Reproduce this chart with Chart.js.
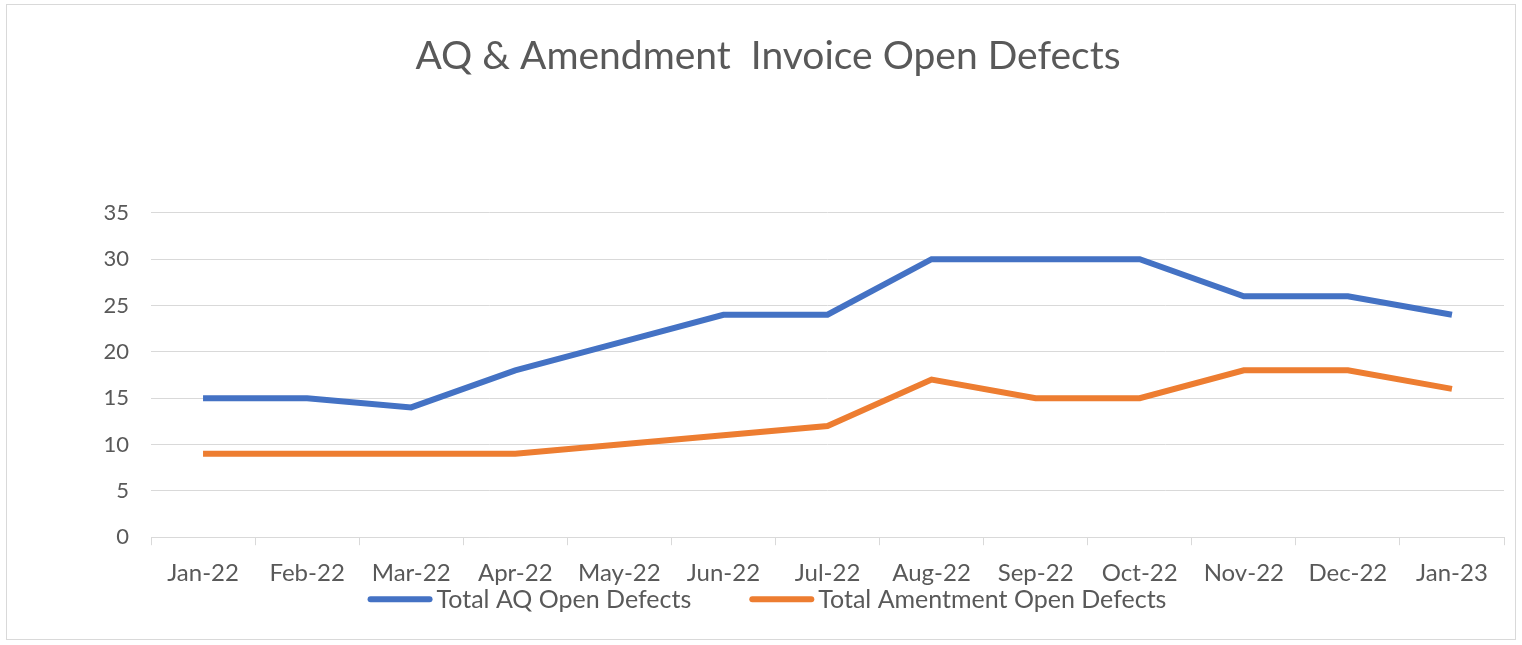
<!DOCTYPE html>
<html>
<head>
<meta charset="utf-8">
<script src="https://cdn.jsdelivr.net/npm/chart.js@4.4.0/dist/chart.umd.min.js"></script>
<style>
  html, body { margin: 0; padding: 0; background: #fff; }
  .wrap {
    position: absolute; left: 6px; top: 4px; width: 1510px; height: 636px;
    border: 1px solid #d9d9d9; box-sizing: border-box;
  }
  canvas { display: block; }
</style>
</head>
<body>
<div class="wrap">
  <canvas id="defectChart" width="1508" height="634"></canvas>
</div>
<script>
// 月ごとのカテゴリ
const months = ['Jan-22', 'Feb-22', 'Mar-22', 'Apr-22', 'May-22', 'Jun-22', 'Jul-22',
                'Aug-22', 'Sep-22', 'Oct-22', 'Nov-22', 'Dec-22', 'Jan-23'];

// 系列データ
const aqOpen = [15, 15, 14, 18, 21, 24, 24, 30, 30, 30, 26, 26, 24];
const amendmentOpen = [9, 9, 9, 9, 10, 11, 12, 17, 15, 15, 18, 18, 16];

const seriesNames = ['Total AQ Open Defects', 'Total Amentment Open Defects'];
const chartTitle = 'AQ & Amendment  Invoice Open Defects';

const textColor = '#595959';
const gridColor = '#d9d9d9';
const fontFamily = 'Lato, "Open Sans", sans-serif';

// 凡例はExcel風の間隔にしたいので自前で描く
const excelLegend = {
  id: 'excelLegend',
  afterDraw(chart) {
    const c = chart.ctx;
    const items = chart.data.datasets;
    const boxW = 65, boxH = 6, textGap = 4, itemGap = 58;
    c.save();
    c.font = '25px ' + fontFamily;
    c.textBaseline = 'middle';
    let total = 0;
    items.forEach((ds, i) => {
      total += boxW + textGap + c.measureText(ds.label).width;
      if (i < items.length - 1) total += itemGap;
    });
    let x = chart.width / 2 + 6 - total / 2;
    const y = chart.chartArea.bottom + 62;
    items.forEach(ds => {
      c.fillStyle = ds.borderColor;
      c.beginPath();
      c.roundRect(x, y - boxH / 2, boxW, boxH, 3);
      c.fill();
      x += boxW + textGap;
      c.fillStyle = textColor;
      c.fillText(ds.label, x, y + 1);
      x += c.measureText(ds.label).width + itemGap;
    });
    c.restore();
  }
};

document.addEventListener('DOMContentLoaded', () => {
  const ctx = document.getElementById('defectChart').getContext('2d');

  new Chart(ctx, {
    type: 'line',
    data: {
      labels: months,
      datasets: [
        {
          label: seriesNames[0],
          data: aqOpen,
          borderColor: '#4472C4',
          backgroundColor: '#4472C4',
          borderWidth: 6,
          pointRadius: 0,
          tension: 0
        },
        {
          label: seriesNames[1],
          data: amendmentOpen,
          borderColor: '#ED7D31',
          backgroundColor: '#ED7D31',
          borderWidth: 6,
          pointRadius: 0,
          tension: 0
        }
      ]
    },
    plugins: [excelLegend],
    options: {
      responsive: false,
      animation: false,
      layout: { padding: { left: 25, right: 11, top: 6, bottom: 37 } },
      plugins: {
        title: {
          display: true,
          text: chartTitle,
          color: textColor,
          font: { family: fontFamily, size: 39, weight: 'normal' },
          padding: { top: 22, bottom: 133 }
        },
        legend: { display: false },
        tooltip: { enabled: false }
      },
      scales: {
        x: {
          offset: true,
          grid: {
            offset: true,
            drawOnChartArea: false,
            drawTicks: true,
            tickLength: 8,
            color: gridColor
          },
          border: { color: gridColor },
          ticks: {
            color: textColor,
            font: { family: fontFamily, size: 24 },
            maxRotation: 0,
            autoSkip: false,
            padding: 14
          }
        },
        y: {
          min: 0,
          max: 35,
          ticks: {
            stepSize: 5,
            color: textColor,
            font: { family: fontFamily, size: 22 },
            padding: 22
          },
          grid: { color: gridColor, drawTicks: false },
          border: { display: false },
          afterFit: (scale) => { scale.width = 119; }
        }
      }
    }
  });
});
</script>
</body>
</html>
